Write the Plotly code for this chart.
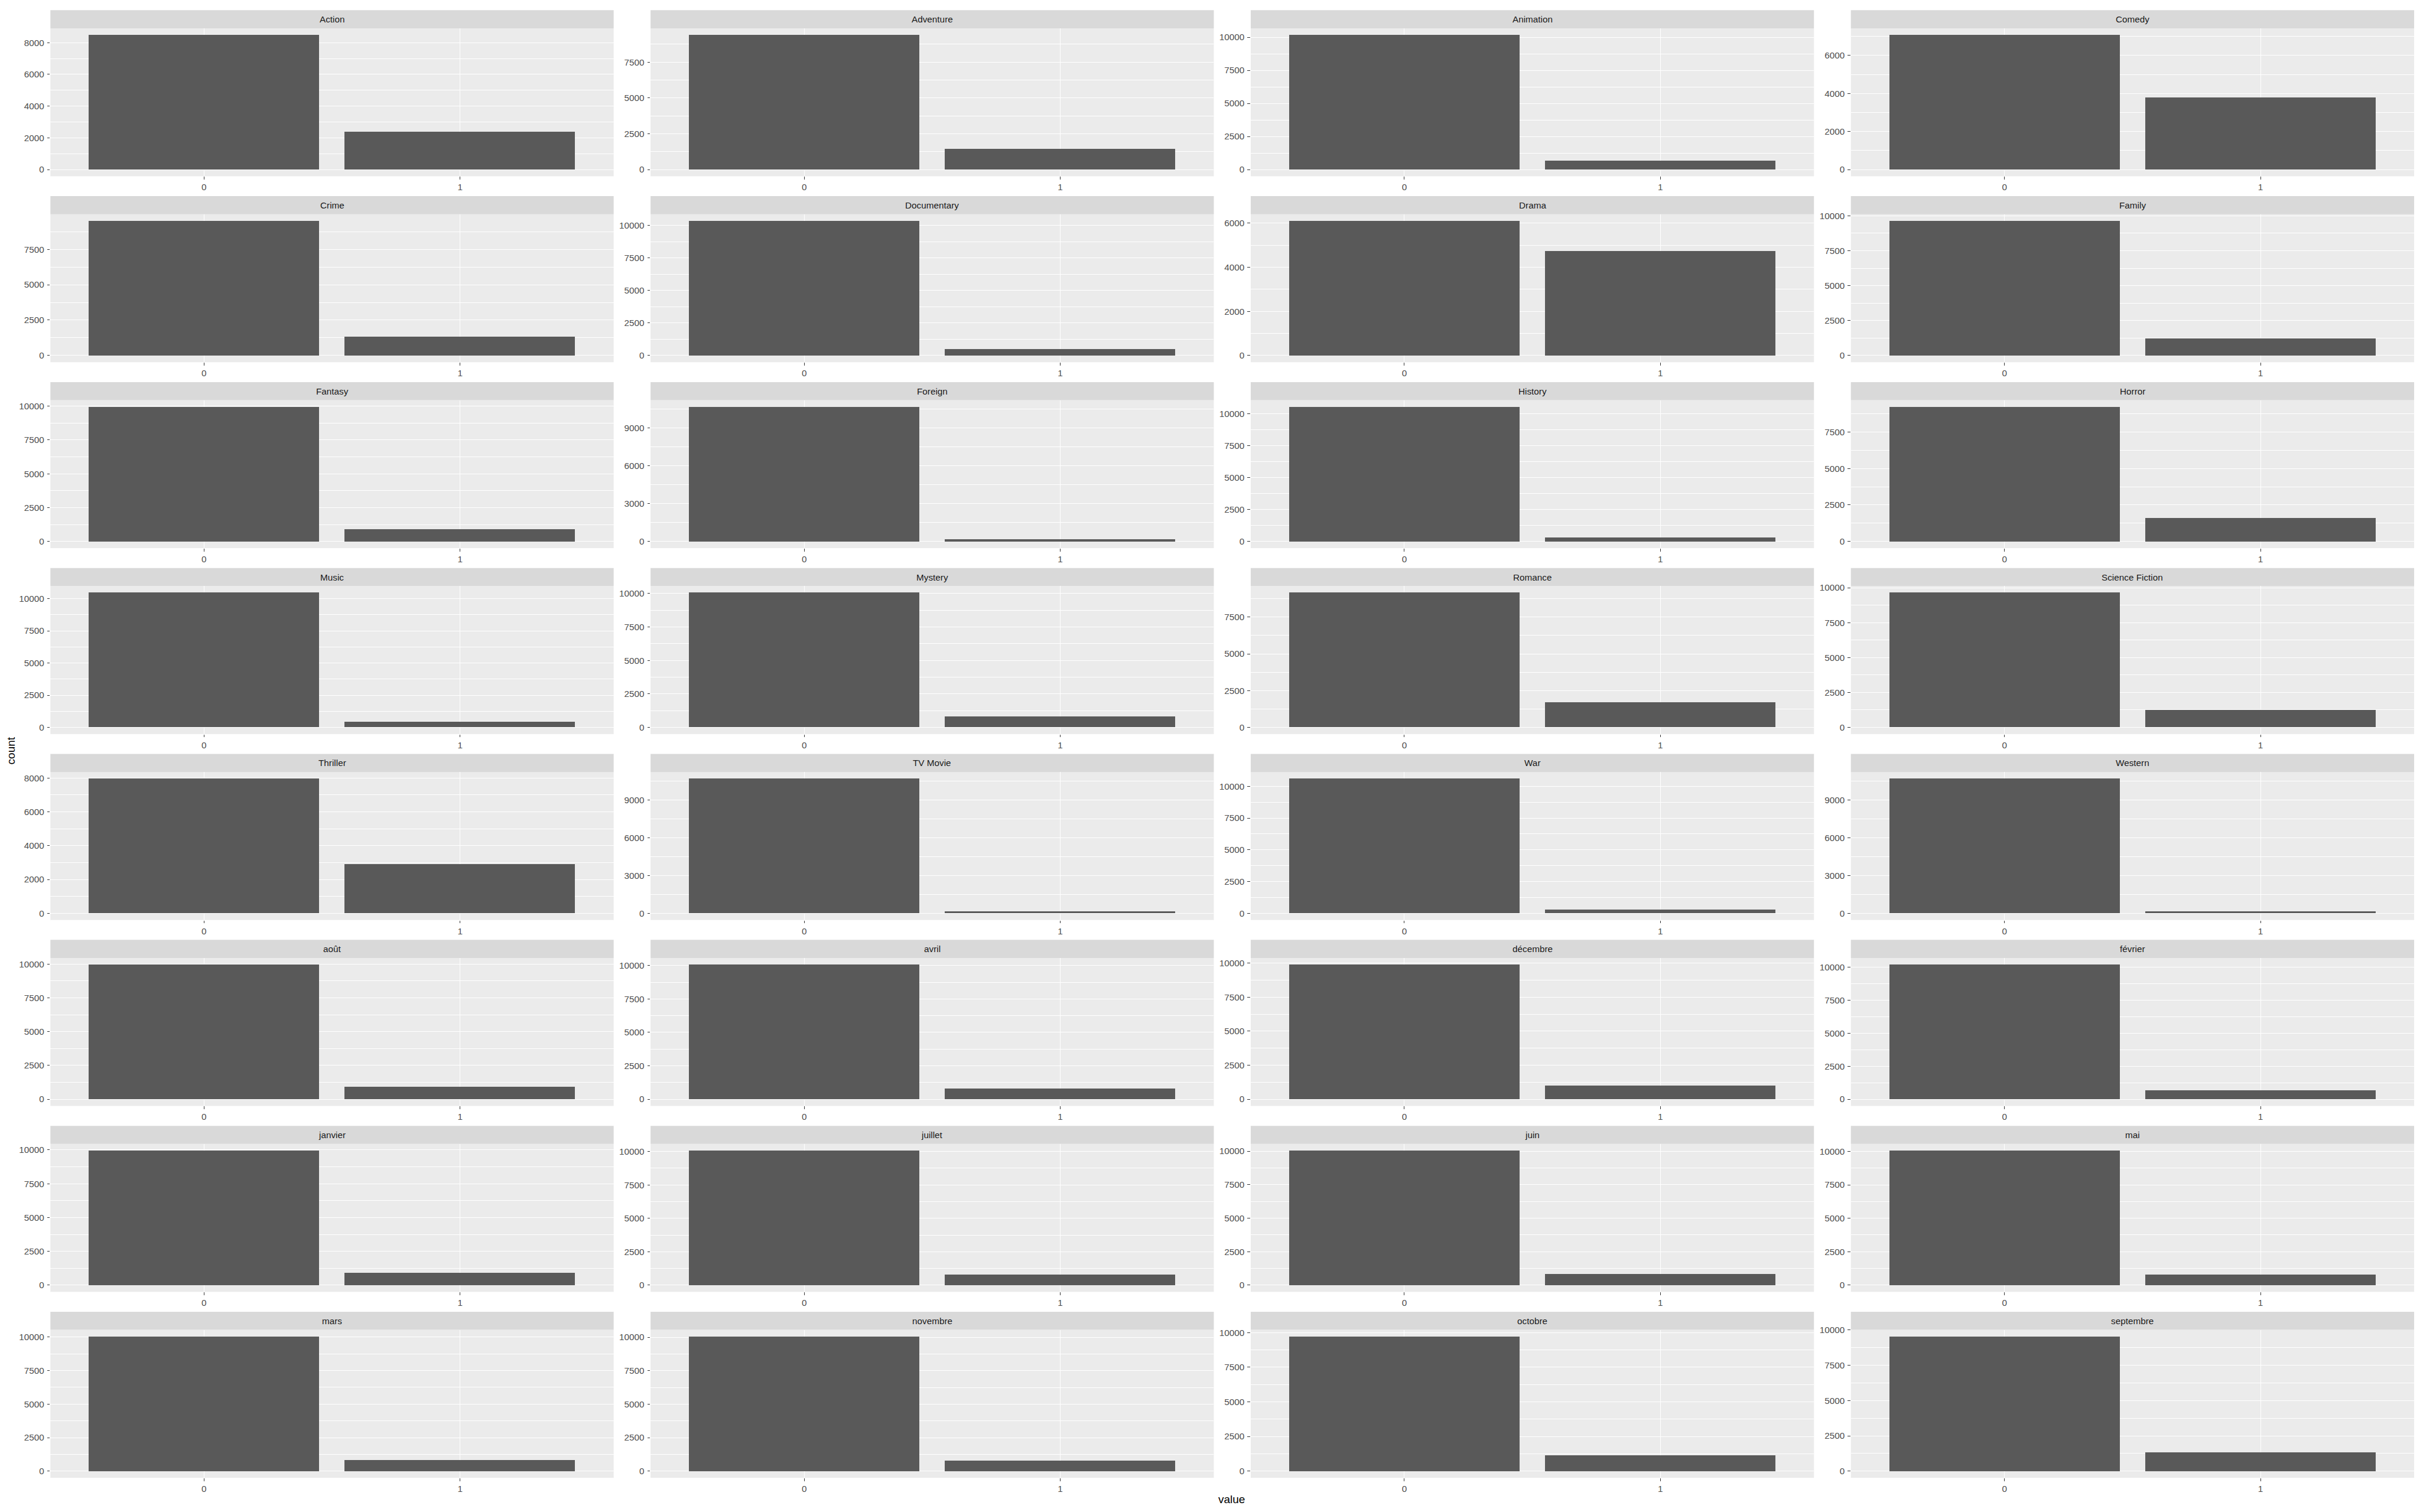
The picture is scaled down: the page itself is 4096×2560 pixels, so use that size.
import plotly.graph_objects as go

# ---------------- data ----------------
facet_names = [
    "Action", "Adventure", "Animation", "Comedy",
    "Crime", "Documentary", "Drama", "Family",
    "Fantasy", "Foreign", "History", "Horror",
    "Music", "Mystery", "Romance", "Science Fiction",
    "Thriller", "TV Movie", "War", "Western",
    "août", "avril", "décembre", "février",
    "janvier", "juillet", "juin", "mai",
    "mars", "novembre", "octobre", "septembre",
]
categories = ["0", "1"]
count_zero = [
    8481, 9395, 10167, 7073,
    9511, 10346, 6105, 9635,
    9950, 10678, 10532, 9229,
    10458, 10056, 9154, 9636,
    7958, 10699, 10596, 10701,
    9948, 10069, 9881, 10175,
    9947, 10067, 10039, 10057,
    10043, 10052, 9713, 9535,
]
count_one = [
    2385, 1471, 699, 3793,
    1355, 520, 4761, 1231,
    916, 188, 334, 1637,
    408, 810, 1712, 1230,
    2908, 167, 270, 165,
    918, 797, 985, 691,
    919, 799, 827, 809,
    823, 814, 1153, 1331,
]
y_tick_step = [
    2000, 2500, 2500, 2000,
    2500, 2500, 2000, 2500,
    2500, 3000, 2500, 2500,
    2500, 2500, 2500, 2500,
    2000, 3000, 2500, 3000,
    2500, 2500, 2500, 2500,
    2500, 2500, 2500, 2500,
    2500, 2500, 2500, 2500,
]
x_title = "value"
y_title = "count"

# ---------------- layout geometry (reference pixels, 6144 x 3840) ----------------
REF_W, REF_H = 6144.0, 3840.0
NCOL = 4
PANEL_X0 = 128.0
COL_PITCH = 1523.7
PANEL_W = 1430.0
STRIP_Y0 = 14.0
ROW_PITCH = 473.7
STRIP_H = 46.0
PANEL_H = 377.0

FONT = "Liberation Sans, Arial, sans-serif"
TICK_FS = 15.3
TITLE_FS = 19.0

fig = go.Figure()
shapes = []
annotations = []
layout = {}

for i, name in enumerate(facet_names):
    k = i + 1
    r, c = divmod(i, NCOL)
    x0 = PANEL_X0 + c * COL_PITCH
    x1 = x0 + PANEL_W
    sy0 = STRIP_Y0 + r * ROW_PITCH
    py0 = sy0 + STRIP_H
    py1 = py0 + PANEL_H

    xa = "x" if k == 1 else f"x{k}"
    ya = "y" if k == 1 else f"y{k}"
    vals = [count_zero[i], count_one[i]]
    fig.add_trace(go.Bar(
        x=categories, y=vals, xaxis=xa, yaxis=ya, width=0.9,
        marker=dict(color="#595959", line=dict(width=0)),
        hoverinfo="skip", showlegend=False,
    ))
    vmax = max(vals)
    step = y_tick_step[i]
    layout[f"xaxis{'' if k == 1 else k}"] = dict(
        domain=[x0 / REF_W, x1 / REF_W], anchor=ya,
        type="category", categoryorder="array", categoryarray=categories,
        range=[-0.6, 1.6], fixedrange=True,
        showgrid=True, gridcolor="white", gridwidth=1.35,
        zeroline=False, showline=False,
        ticks="outside", ticklen=4.5, tickwidth=1.1, tickcolor="#333333",
        tickfont=dict(family=FONT, size=TICK_FS, color="#4D4D4D"),
        ticklabelstandoff=0,
    )
    layout[f"yaxis{'' if k == 1 else k}"] = dict(
        domain=[1 - py1 / REF_H, 1 - py0 / REF_H], anchor=xa,
        range=[-0.05 * vmax, 1.05 * vmax], fixedrange=True,
        tick0=0, dtick=step, tickformat="d",
        showgrid=True, gridcolor="white", gridwidth=1.35,
        minor=dict(tick0=0, dtick=step / 2, showgrid=True,
                   gridcolor="white", gridwidth=0.7, ticks=""),
        zeroline=True, zerolinecolor="white", zerolinewidth=1.35,
        showline=False,
        ticks="outside", ticklen=4.5, tickwidth=1.1, tickcolor="#333333",
        tickfont=dict(family=FONT, size=TICK_FS, color="#4D4D4D"),
        ticklabelstandoff=2,
    )
    # strip
    shapes.append(dict(
        type="rect", xref="paper", yref="paper",
        x0=x0 / REF_W, x1=x1 / REF_W,
        y0=1 - py0 / REF_H, y1=1 - sy0 / REF_H,
        fillcolor="#D9D9D9", line=dict(width=0), layer="below",
    ))
    annotations.append(dict(
        text=name, xref="paper", yref="paper",
        x=(x0 + x1) / 2 / REF_W, y=1 - (sy0 + STRIP_H / 2) / REF_H,
        xanchor="center", yanchor="middle", showarrow=False,
        font=dict(family=FONT, size=TICK_FS, color="#1A1A1A"),
    ))

annotations.append(dict(
    text=y_title, xref="paper", yref="paper",
    x=28 / REF_W, y=1 - 1900 / REF_H, textangle=-90,
    xanchor="center", yanchor="middle", showarrow=False,
    font=dict(family=FONT, size=TITLE_FS, color="black"),
))
annotations.append(dict(
    text=x_title, xref="paper", yref="paper",
    x=3127 / REF_W, y=1 - 3808 / REF_H,
    xanchor="center", yanchor="middle", showarrow=False,
    font=dict(family=FONT, size=TITLE_FS, color="black"),
))

fig.update_layout(
    width=4096, height=2560,
    margin=dict(l=0, r=0, t=0, b=0, pad=0),
    paper_bgcolor="white", plot_bgcolor="#EBEBEB",
    shapes=shapes, annotations=annotations,
    bargap=0, showlegend=False,
    **layout,
)

fig.write_html("out.html", config=dict(displayModeBar=False, responsive=False))
